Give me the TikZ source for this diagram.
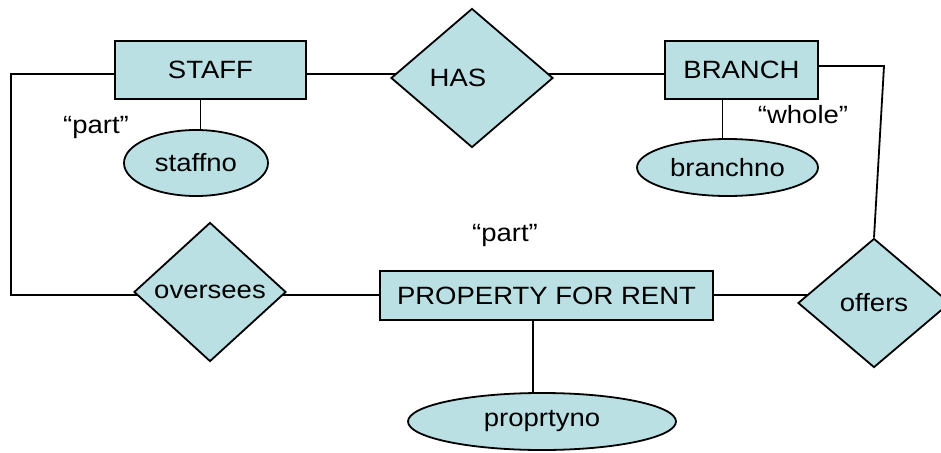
\documentclass[tikz,border=0pt]{standalone}
\usepackage{fontspec}
\setmainfont[FakeStretch=1.1]{Liberation Sans}
\usetikzlibrary{shapes.geometric}
\pgfdeclarelayer{background}
\pgfsetlayers{background,main}
\definecolor{erfill}{RGB}{186,224,228}
\begin{document}
\begin{tikzpicture}[x=1pt,y=-1pt,
  font=\fontsize{25}{30}\selectfont,
  line width=1.8pt,
  entity/.style={draw,fill=erfill,rectangle,inner sep=0pt},
  attrib/.style={draw,fill=erfill,ellipse,inner sep=0pt},
  relship/.style={draw,fill=erfill,diamond,inner sep=0pt},
  link/.style={draw,line width=1.8pt,line join=miter},
  note/.style={inner sep=0pt}]
\useasboundingbox (0,0) rectangle (941,452);

% entities
\node[entity,minimum width=191pt,minimum height=58pt] (staff) at (210.5,70) {STAFF};
\node[entity,minimum width=153pt,minimum height=58pt] (branch) at (741.5,70) {BRANCH};
\node[entity,minimum width=333pt,minimum height=49pt] (property) at (546.5,295.5) {PROPERTY FOR RENT};

% relationships
\node[relship,minimum width=162pt,minimum height=139pt] (has) at (472,78) {\hspace*{-28pt}HAS};
\node[relship,minimum width=152pt,minimum height=139pt] (oversees) at (210,292) {oversees};
\node[relship,minimum width=152pt,minimum height=129pt] (offers) at (874,303) {offers};

% attributes
\node[attrib,minimum width=144pt,minimum height=66pt] (staffno) at (196,163) {staffno};
\node[attrib,minimum width=181pt,minimum height=57pt] (branchno) at (727.5,167.5) {branchno};
\node[attrib,minimum width=268pt,minimum height=57pt] (proprtyno) at (542,421.5) {proprtyno};

% role labels
\node[note] (partA) at (96,127) {``part''};
\node[note] (whole) at (803,115) {``whole''};
\node[note] (partB) at (505,235) {``part''};

% corners of the routed connectors
\coordinate (lt) at (11,74);
\coordinate (lb) at (11,295);
\coordinate (rt) at (884,66);

\begin{pgfonlayer}{background}
  \path[link] ([yshift=-4pt]staff.east) -- ([yshift=-4pt]staff.east -| has);
  \path[link] ([yshift=-4pt]branch.west) -- ([yshift=-4pt]branch.west -| has);
  \path[link] ([yshift=4pt]branch.east) -- (rt) -- (offers.north);
  \path[link] ([xshift=-10pt]staff.south) -- ([xshift=-10pt]staff.south |- staffno);
  \path[link] ([xshift=-19pt]branch.south) -- ([xshift=-19pt]branch.south |- branchno);
  \path[link] ([yshift=-4pt]staff.west) -- (lt) -- (lb) -- (lb -| oversees);
  \path[link] (lb -| oversees) -- (lb -| property);
  \path[link] (lb -| property) -- (lb -| offers);
  \path[link] ([xshift=-13.5pt]property.south) -- ([xshift=-13.5pt]property.south |- proprtyno);
\end{pgfonlayer}
\end{tikzpicture}
\end{document}
